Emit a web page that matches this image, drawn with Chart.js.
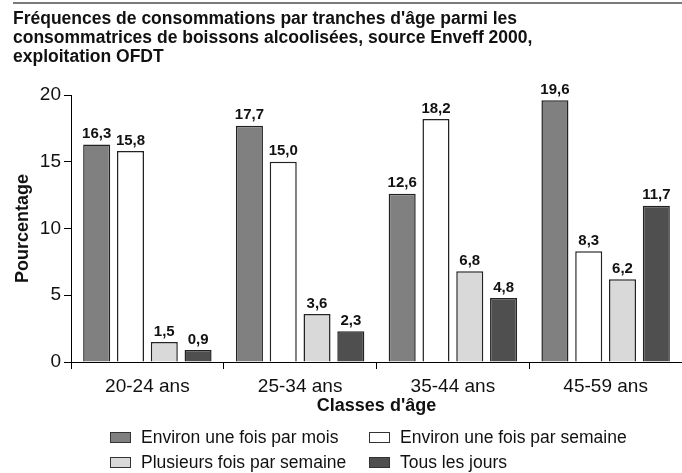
<!DOCTYPE html>
<html>
<head>
<meta charset="utf-8">
<script src="https://cdn.jsdelivr.net/npm/chart.js@4/dist/chart.umd.min.js"></script>
<style>
  body{ margin:0; background:#fff; font-family:"Liberation Sans", Arial, sans-serif; }
  #wrap{ position:relative; width:682px; height:473px; }
  #rule{ position:absolute; left:13px; right:0; top:2px; height:2px; background:#7a7a7a; }
  #chart{ position:absolute; left:0; top:0; }
  #legend{ position:absolute; left:0; top:0; width:682px; height:473px; pointer-events:none; }
  .item{ position:absolute; display:flex; align-items:center; font-size:17.5px; color:#111; line-height:20px; }
  .box{ width:19px; height:9px; border:1.5px solid #333; margin-right:10px; }
</style>
</head>
<body>
<div id="wrap">
  <canvas id="chart" width="682" height="416"></canvas>
  <div id="rule"></div>
  <div id="legend"></div>
</div>
<script>

const categories = ["20-24 ans", "25-34 ans", "35-44 ans", "45-59 ans"];

const seriesNames = [
    "Environ une fois par mois",
    "Environ une fois par semaine",
    "Plusieurs fois par semaine",
    "Tous les jours"
];

const foisParMois = [16.3, 17.7, 12.6, 19.6];
const foisParSemaine = [15.8, 15.0, 18.2, 8.3];
const plusieursFois = [1.5, 3.6, 6.8, 6.2];
const tousLesJours = [0.9, 2.3, 4.8, 11.7];

const colors = ["#808080", "#ffffff", "#d9d9d9", "#4f4f4f"];

const yTicks = [0, 5, 10, 15, 20];

const titleLines = [
    "Fréquences de consommations par tranches d'âge parmi les",
    "consommatrices de boissons alcoolisées, source Enveff 2000,",
    "exploitation OFDT"
];

const allValues = [foisParMois, foisParSemaine, plusieursFois, tousLesJours];

const FONT = "'Liberation Sans', Arial, sans-serif";

// etiquettes au-dessus des barres
const valueLabels = {
    id: "valueLabels",
    afterDatasetsDraw(chart){
        const ctx = chart.ctx;
        ctx.save();
        ctx.font = "bold 15px " + FONT;
        ctx.fillStyle = "#111";
        ctx.textAlign = "center";
        ctx.textBaseline = "bottom";
        chart.data.datasets.forEach((ds, i) => {
            chart.getDatasetMeta(i).data.forEach((bar, j) => {
                const txt = ds.data[j].toFixed(1).replace(".", ",");
                ctx.fillText(txt, bar.x, bar.y - 3);
            });
        });
        ctx.restore();
    }
};

const chart = new Chart(document.getElementById("chart"), {
    type: "bar",
    data: {
        labels: categories,
        datasets: seriesNames.map((name, i) => ({
            label: name,
            data: allValues[i],
            backgroundColor: colors[i],
            borderColor: "#222",
            borderWidth: 1.5,
            categoryPercentage: 0.885,
            barPercentage: 0.8
        }))
    },
    options: {
        responsive: false,
        animation: false,
        layout: { padding: { left: 13, right: 0, top: 0, bottom: 0 } },
        plugins: {
            legend: { display: false },
            tooltip: { enabled: false },
            title: {
                display: true,
                text: titleLines,
                align: "start",
                color: "#111",
                font: { family: FONT, size: 17.5, weight: "bold", lineHeight: "19px" },
                padding: { top: 10, bottom: 28 }
            }
        },
        scales: {
            x: {
                grid: { offset: true, drawOnChartArea: false, tickLength: 7, color: "#000" },
                border: { color: "#000", width: 1 },
                ticks: { color: "#111", font: { size: 19, family: FONT }, padding: 6 },
                title: {
                    display: true,
                    text: "Classes d'âge",
                    color: "#111",
                    font: { size: 18, weight: "bold", family: FONT, lineHeight: 1.1 },
                    padding: 0
                },
                afterFit(scale){ scale.height = 54; }
            },
            y: {
                min: 0,
                max: 20,
                afterBuildTicks(scale){ scale.ticks = yTicks.map(v => ({ value: v })); },
                grid: { drawOnChartArea: false, tickLength: 7, color: "#000" },
                border: { color: "#000", width: 1 },
                ticks: { color: "#111", font: { size: 19, family: FONT }, padding: 3 },
                title: {
                    display: true,
                    text: "Pourcentage",
                    color: "#111",
                    font: { size: 18, weight: "bold", family: FONT, lineHeight: 1.1 },
                    padding: 0
                },
                afterFit(scale){ scale.width = 58; }
            }
        }
    },
    plugins: [valueLabels]
});

// legende en deux colonnes
const legend = document.getElementById("legend");
const legendPos = [[110, 427], [369, 427], [110, 452], [369, 452]];
seriesNames.forEach((name, i) => {
    const item = document.createElement("div");
    item.className = "item";
    item.style.left = legendPos[i][0] + "px";
    item.style.top = legendPos[i][1] + "px";
    item.innerHTML = `<span class="box" style="background:${colors[i]}"></span>${name}`;
    legend.appendChild(item);
});

</script>
</body>
</html>
